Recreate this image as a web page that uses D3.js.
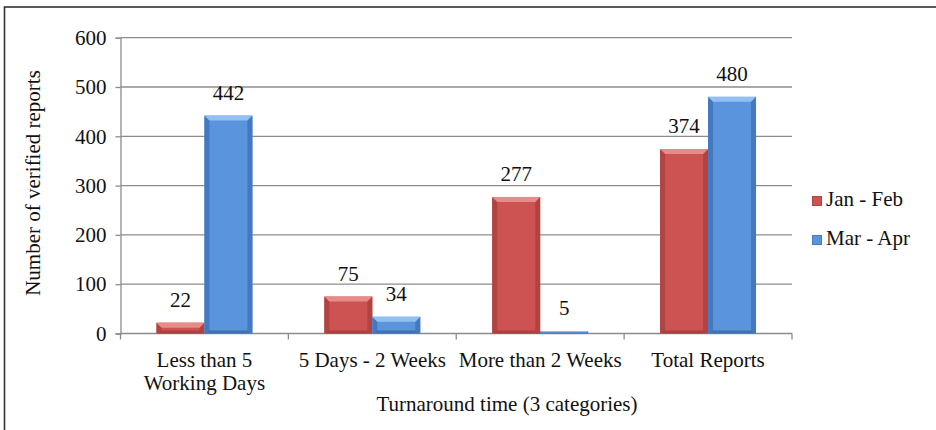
<!DOCTYPE html>
<html>
<head>
<meta charset="utf-8">
<script src="https://cdn.jsdelivr.net/npm/d3@7/dist/d3.min.js"></script>
<style>
  html, body { margin: 0; padding: 0; background: #fff; }
</style>
</head>
<body>
<svg id="chart" width="936" height="430"></svg>
<script>
// Turnaround time categories and verified report counts per period
const categories = [["Less than 5", "Working Days"], ["5 Days - 2 Weeks"], ["More than 2 Weeks"], ["Total Reports"]];
const seriesNames = ["Jan - Feb", "Mar - Apr"];
const janFeb = [22, 75, 277, 374];
const marApr = [442, 34, 5, 480];
const yTicks = [0, 100, 200, 300, 400, 500, 600];

const FONT = 21;
const FAMILY = '"Liberation Serif"';
const palette = {
  "Jan - Feb": { face: "#CD5352", top: "#E88A89", side: "#B04443", bottom: "#A94140" },
  "Mar - Apr": { face: "#5A94DC", top: "#93C0F2", side: "#4479C0", bottom: "#3F70B0" }
};

const svg = d3.select("#chart");

// outer frame
svg.append("rect")
  .attr("x", 4.5).attr("y", 7)
  .attr("width", 960).attr("height", 460)
  .attr("fill", "none").attr("stroke", "#333").attr("stroke-width", 1.6);

const plot = { left: 120.5, right: 792, top: 37.7, bottom: 333.5 };

const catKeys = categories.map(c => c.join(" "));
const x0 = d3.scaleBand().domain(catKeys).range([plot.left, plot.right]).paddingInner(0).paddingOuter(0);
const x1 = d3.scaleBand().domain(seriesNames).range([0, x0.bandwidth()]).paddingInner(0).paddingOuter(0.75);
const y = d3.scaleLinear().domain([0, 600]).range([plot.bottom, plot.top]);

// gridlines
svg.append("g").selectAll("line").data(yTicks.filter(t => t > 0)).join("line")
  .attr("x1", plot.left).attr("x2", plot.right)
  .attr("y1", d => y(d)).attr("y2", d => y(d))
  .attr("stroke", "#8c8c8c").attr("stroke-width", 1.3);

// y axis
const yAxis = svg.append("g").attr("transform", `translate(${plot.left},0)`)
  .call(d3.axisLeft(y).tickValues(yTicks).tickSize(5).tickPadding(9));
yAxis.select(".domain").attr("stroke", "#8c8c8c").attr("stroke-width", 1.3);
yAxis.selectAll(".tick line").attr("stroke", "#8c8c8c").attr("stroke-width", 1.3);
yAxis.selectAll(".tick text").attr("font-size", FONT).attr("fill", "#111");

// x axis line with category boundary ticks
svg.append("line")
  .attr("x1", plot.left).attr("x2", plot.right)
  .attr("y1", plot.bottom).attr("y2", plot.bottom)
  .attr("stroke", "#8c8c8c").attr("stroke-width", 1.3);
const boundaries = catKeys.map(k => x0(k)).concat([x0(catKeys[catKeys.length - 1]) + x0.bandwidth()]);
svg.append("g").selectAll("line").data(boundaries).join("line")
  .attr("x1", d => d).attr("x2", d => d)
  .attr("y1", plot.bottom).attr("y2", plot.bottom + 6)
  .attr("stroke", "#8c8c8c").attr("stroke-width", 1.3);

// category labels
const catG = svg.append("g");
categories.forEach((lines, i) => {
  const cx = x0(catKeys[i]) + x0.bandwidth() / 2;
  const t = catG.append("text").attr("text-anchor", "middle").attr("font-size", FONT);
  lines.forEach((ln, j) => {
    t.append("tspan").attr("x", cx).attr("y", 367 + j * 23).text(ln);
  });
});

// bevelled bars
function drawBar(g, x, w, v, col) {
  const yt = y(v), yb = y(0), h = yb - yt;
  const b = Math.min(5, h / 2, w / 2);
  const bb = Math.min(3, h / 2);
  g.append("rect").attr("x", x).attr("y", yt).attr("width", w).attr("height", h).attr("fill", col.face);
  const poly = (pts, fill) => g.append("polygon").attr("points", pts.map(p => p.join(",")).join(" ")).attr("fill", fill);
  poly([[x, yt], [x + b, yt + b], [x + b, yb - bb], [x, yb]], col.side);
  poly([[x + w, yt], [x + w - b, yt + b], [x + w - b, yb - bb], [x + w, yb]], col.side);
  poly([[x, yb], [x + b, yb - bb], [x + w - b, yb - bb], [x + w, yb]], col.bottom);
  poly([[x, yt], [x + w, yt], [x + w - b, yt + b], [x + b, yt + b]], col.top);
}

const barsG = svg.append("g");
const labelG = svg.append("g");
[janFeb, marApr].forEach((vals, s) => {
  const name = seriesNames[s];
  vals.forEach((v, i) => {
    const bx = x0(catKeys[i]) + x1(name);
    drawBar(barsG, bx, x1.bandwidth(), v, palette[name]);
    labelG.append("text")
      .attr("x", bx + x1.bandwidth() / 2)
      .attr("y", y(v) - 16)
      .attr("text-anchor", "middle").attr("font-size", FONT)
      .text(v);
  });
});

// axis titles
svg.append("text")
  .attr("x", 507).attr("y", 411)
  .attr("text-anchor", "middle").attr("font-size", FONT)
  .text("Turnaround time (3 categories)");
svg.append("text")
  .attr("transform", "translate(40,183) rotate(-90)")
  .attr("text-anchor", "middle").attr("font-size", FONT)
  .text("Number of verified reports");

// legend
const legend = svg.append("g");
seriesNames.forEach((name, i) => {
  const ly = 196 + i * 39;
  const col = palette[name];
  legend.append("rect").attr("x", 812).attr("y", ly).attr("width", 10).attr("height", 10).attr("fill", col.face);
  legend.append("rect").attr("x", 812.5).attr("y", ly + 0.5).attr("width", 9).attr("height", 9)
    .attr("fill", "none").attr("stroke", col.side).attr("stroke-width", 1);
  legend.append("text").attr("x", 826).attr("y", ly + 10).attr("font-size", FONT).text(name);
});

// one typeface for every label
svg.selectAll("text").style("font-family", FAMILY).attr("fill", "#111");
</script>
</body>
</html>
